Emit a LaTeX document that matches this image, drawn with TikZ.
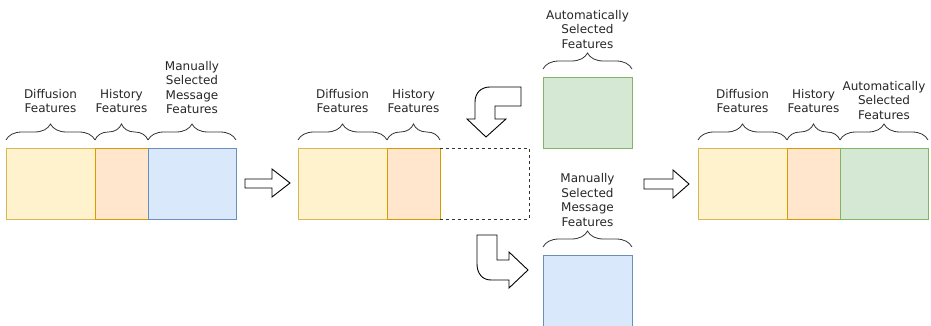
\documentclass[tikz,border=0pt]{standalone}
\usepackage{fontspec}
\setmainfont{DejaVu Sans}
\usetikzlibrary{positioning,decorations.pathreplacing}

\definecolor{yelfill}{HTML}{FFF2CC}
\definecolor{yeldraw}{HTML}{D6B656}
\definecolor{orgfill}{HTML}{FFE6CC}
\definecolor{orgdraw}{HTML}{D79B00}
\definecolor{blufill}{HTML}{DAE8FC}
\definecolor{bludraw}{HTML}{6C8EBF}
\definecolor{grnfill}{HTML}{D5E8D4}
\definecolor{grndraw}{HTML}{82B366}

\tikzset{
  cell/.style={draw, minimum height=71pt, inner sep=0pt, outer sep=0pt, line width=0.9pt},
  yel/.style={cell, fill=yelfill, draw=yeldraw},
  org/.style={cell, fill=orgfill, draw=orgdraw},
  blu/.style={cell, fill=blufill, draw=bludraw},
  grn/.style={cell, fill=grnfill, draw=grndraw},
  brc/.style={decorate, decoration={brace, amplitude=16pt}, draw=black!80, line width=0.8pt},
  lbl/.style={font=\fontsize{12}{14.4}\selectfont, align=center, text=black!85, inner sep=0pt},
  blk/.style={draw=black, line width=0.9pt, fill=white, line join=miter}
}

\begin{document}
\begin{tikzpicture}[x=1pt,y=-1pt]
  %% Whole page, same size as the reference.
  \useasboundingbox (0,0) rectangle (931,326);

  %% Width of a wide and of a narrow feature block.
  \def\wide{89pt}
  \def\narrow{53pt}
  %% Gap between a block and the label above its brace.
  \def\gap{35pt}
  \def\gapb{28.5pt}

  %% First vector.
  \node[yel, minimum width=\wide, anchor=north west] (d1) at (6,148) {};
  \node[org, minimum width=\narrow, right=0pt of d1] (h1) {};
  \node[blu, minimum width=88pt, right=0pt of h1] (m1) {};

  %% Second vector, with an empty slot (left side is the orange edge).
  \node[yel, minimum width=\wide, anchor=north west] (d2) at (298,148) {};
  \node[org, minimum width=\narrow, right=0pt of d2] (h2) {};
  \node[cell, draw=none, minimum width=\wide, right=0pt of h2] (e2) {};
  \draw[dashed, draw=black!80, line width=0.9pt] (e2.north west) -- (e2.north east)
    -- (e2.south east) -- (e2.south west);

  %% The two candidate blocks.
  \node[grn, minimum width=\wide, anchor=north west] (g2) at (543,77) {};
  \node[blu, minimum width=\wide, minimum height=72pt, anchor=north west] (m2) at (543,255) {};

  %% Final vector.
  \node[yel, minimum width=\wide, anchor=north west] (d3) at (698,148) {};
  \node[org, minimum width=\narrow, right=0pt of d3] (h3) {};
  \node[grn, minimum width=88pt, right=0pt of h3] (g3) {};

  %% Braces over the blocks.
  \foreach \b in {d1,h1,m1,d2,h2,g2,m2,d3,h3,g3}
    \draw[brc] ([yshift=8pt]\b.north west) -- ([yshift=8pt]\b.north east);

  %% Labels.
  \node[lbl, above=\gap of d1.north] (ld1) {Diffusion\\Features};
  \node[lbl, above=\gap of h1.north] (lh1) {History\\Features};
  \node[lbl, above=34pt of m1.north] (lm1) {Manually\\Selected\\Message\\Features};
  \node[lbl, above=\gap of d2.north] (ld2) {Diffusion\\Features};
  \node[lbl, above=\gap of h2.north] (lh2) {History\\Features};
  \node[lbl, above=\gapb of g2.north] (lg2) {Automatically\\Selected\\Features};
  \node[lbl, above=\gapb of m2.north] (lm2) {Manually\\Selected\\Message\\Features};
  \node[lbl, above=\gap of d3.north] (ld3) {Diffusion\\Features};
  \node[lbl, above=\gap of h3.north] (lh3) {History\\Features};
  \node[lbl, above=\gapb of g3.north] (lg3) {Automatically\\Selected\\Features};

  %% Straight block arrows.
  \draw[blk] (245,179) -- (272,179) -- (272,169) -- (290,183) -- (272,197)
    -- (272,188) -- (245,188) -- cycle;
  \draw[blk] (644,179) -- (673,179) -- (673,170) -- (689,184) -- (673,198)
    -- (673,189) -- (644,189) -- cycle;

  %% Bent arrow bringing the new block in.
  \draw[blk] (521,87) -- (521,106) -- (495,106) -- (495,119) -- (506,119)
    -- (486,137) -- (467,119) -- (475,119) -- (475,102)
    .. controls (475,93) and (481,87) .. (490,87) -- cycle;

  %% Bent arrow taking the old block out.
  \draw[blk] (477,235) -- (497,235) -- (497,260) -- (509,260) -- (509,252)
    -- (528,270) -- (509,288) -- (509,280) -- (491,280)
    .. controls (482,280) and (477,273) .. (477,264) -- cycle;
\end{tikzpicture}
\end{document}
